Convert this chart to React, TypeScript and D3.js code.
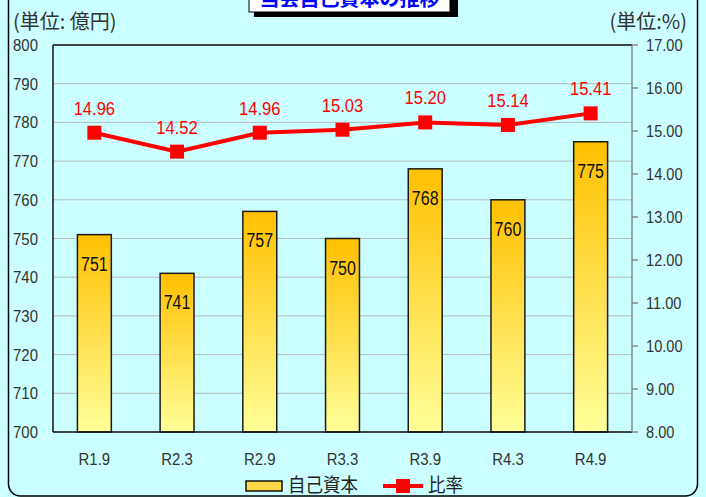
import React from "react";
import * as d3 from "d3";

const categories = ["R1.9", "R2.3", "R2.9", "R3.3", "R3.9", "R4.3", "R4.9"];
const capital = [751, 741, 757, 750, 768, 760, 775];
const ratio = [14.96, 14.52, 14.96, 15.03, 15.2, 15.14, 15.41];
const leftTicks = [700, 710, 720, 730, 740, 750, 760, 770, 780, 790, 800];
const rightTicks = [8, 9, 10, 11, 12, 13, 14, 15, 16, 17];

const W = 706;
const H = 497;
const plot = { left: 53, right: 632, top: 45, bottom: 432 };

const NUM_FONT = "'Liberation Sans', Arial, sans-serif";
const JP_FONT = "'Noto Sans CJK JP', sans-serif";

function Txt(props: {
  x: number;
  y: number;
  sx?: number;
  anchor?: string;
  size: number;
  fill?: string;
  font?: string;
  weight?: string | number;
  children: React.ReactNode;
}) {
  const { x, y, sx = 1, anchor = "start", size, fill = "#000", font = NUM_FONT, weight = "normal" } = props;
  return (
    <text
      transform={`translate(${x},${y}) scale(${sx},1)`}
      textAnchor={anchor}
      fontSize={size}
      fill={fill}
      fontFamily={font}
      fontWeight={weight}
    >
      {props.children}
    </text>
  );
}

export default function App() {
  const x = d3
    .scaleBand<string>()
    .domain(categories)
    .range([plot.left, plot.right])
    .paddingInner(0.59)
    .paddingOuter(0.295);
  const yL = d3.scaleLinear().domain([700, 800]).range([plot.bottom, plot.top]);
  const yR = d3.scaleLinear().domain([8, 17]).range([plot.bottom, plot.top]);
  const cx = (c: string) => (x(c) as number) + x.bandwidth() / 2;

  const line = d3
    .line<number>()
    .x((_, i) => cx(categories[i]))
    .y((d) => yR(d));

  const ms = 14;

  return (
    <svg
      width={W}
      height={H}
      style={{ position: "absolute", left: 0, top: 0, background: "#ccffff" }}
    >
      <defs>
        <linearGradient id="barGrad" x1="0" y1="0" x2="0" y2="1">
          <stop offset="0%" stopColor="#ffc000" />
          <stop offset="100%" stopColor="#ffff99" />
        </linearGradient>
      </defs>
      <rect x={0} y={0} width={W} height={H} fill="#ccffff" />
      {/* outer frame */}
      <rect x={8.5} y={-20} width={689} height={516} rx={12} fill="none" stroke="#000" strokeWidth={1.5} />

      {/* title box */}
      <rect x={254} y={-30} width={204} height={47} fill="#000" />
      <rect x={249} y={-35} width={201} height={47} fill="#fff" stroke="#000" strokeWidth={1} />
      <Txt x={349.5} y={6} anchor="middle" size={20} fill="#0000ff" font={JP_FONT} weight="bold">
        当会自己資本の推移
      </Txt>

      {/* units */}
      <Txt x={13} y={29} size={20} fill="#333" font={JP_FONT}>
        (単位: 億円)
      </Txt>
      <Txt x={687} y={29} anchor="end" size={20} fill="#333" font={JP_FONT}>
        (単位:%)
      </Txt>

      {/* gridlines */}
      {leftTicks.map((t) => (
        <line
          key={"g" + t}
          x1={plot.left}
          x2={plot.right}
          y1={yL(t)}
          y2={yL(t)}
          stroke="#b4bcbc"
          strokeWidth={1}
        />
      ))}

      {/* bars */}
      {capital.map((v, i) => (
        <rect
          key={"b" + i}
          x={x(categories[i]) as number}
          y={yL(v)}
          width={x.bandwidth()}
          height={yL(700) - yL(v)}
          fill="url(#barGrad)"
          stroke="#1a1a1a"
          strokeWidth={1.5}
        />
      ))}
      {capital.map((v, i) => (
        <Txt key={"bl" + i} x={cx(categories[i])} y={yL(v) + 36} anchor="middle" size={20} sx={0.8} fill="#111">
          {String(v)}
        </Txt>
      ))}

      {/* plot frame */}
      <line x1={plot.left} x2={plot.right} y1={plot.top} y2={plot.top} stroke="#111" strokeWidth={1.5} />
      <line x1={plot.left} x2={plot.right} y1={plot.bottom} y2={plot.bottom} stroke="#111" strokeWidth={1.5} />
      <line x1={plot.left} x2={plot.left} y1={plot.top} y2={plot.bottom} stroke="#111" strokeWidth={1.5} />
      <line x1={plot.right} x2={plot.right} y1={plot.top} y2={plot.bottom} stroke="#888" strokeWidth={1.5} />
      {rightTicks.map((t) => (
        <line key={"rt" + t} x1={plot.right} x2={plot.right + 6} y1={yR(t)} y2={yR(t)} stroke="#888" strokeWidth={1.5} />
      ))}

      {/* left axis labels */}
      {leftTicks.map((t) => (
        <Txt key={"ll" + t} x={38} y={yL(t) + 6} anchor="end" size={17} sx={0.88} fill="#333">
          {String(t)}
        </Txt>
      ))}
      {/* right axis labels */}
      {rightTicks.map((t) => (
        <Txt key={"rl" + t} x={646} y={yR(t) + 6} size={17} sx={0.86} fill="#333">
          {t.toFixed(2)}
        </Txt>
      ))}
      {/* x labels */}
      {categories.map((c) => (
        <Txt key={"xl" + c} x={cx(c)} y={465} anchor="middle" size={17} sx={0.88} fill="#333">
          {c}
        </Txt>
      ))}

      {/* ratio line */}
      <path d={line(ratio) as string} fill="none" stroke="#ff0000" strokeWidth={4} />
      {ratio.map((v, i) => (
        <rect
          key={"m" + i}
          x={cx(categories[i]) - ms / 2}
          y={yR(v) - ms / 2}
          width={ms}
          height={ms}
          fill="#ff0000"
        />
      ))}
      {ratio.map((v, i) => (
        <Txt key={"rv" + i} x={cx(categories[i])} y={yR(v) - 18} anchor="middle" size={18} sx={0.92} fill="#ff0000">
          {v.toFixed(2)}
        </Txt>
      ))}

      {/* legend */}
      <rect x={246} y={481} width={36} height={10} fill="#ffd84a" stroke="#111" strokeWidth={1.5} />
      <Txt x={288} y={492} size={19} font={JP_FONT} sx={0.92} fill="#222">
        自己資本
      </Txt>
      <line x1={383} x2={423} y1={486} y2={486} stroke="#ff0000" strokeWidth={4} />
      <rect x={396} y={479} width={14} height={14} fill="#ff0000" />
      <Txt x={428} y={492} size={19} font={JP_FONT} sx={0.92} fill="#222">
        比率
      </Txt>
    </svg>
  );
}
